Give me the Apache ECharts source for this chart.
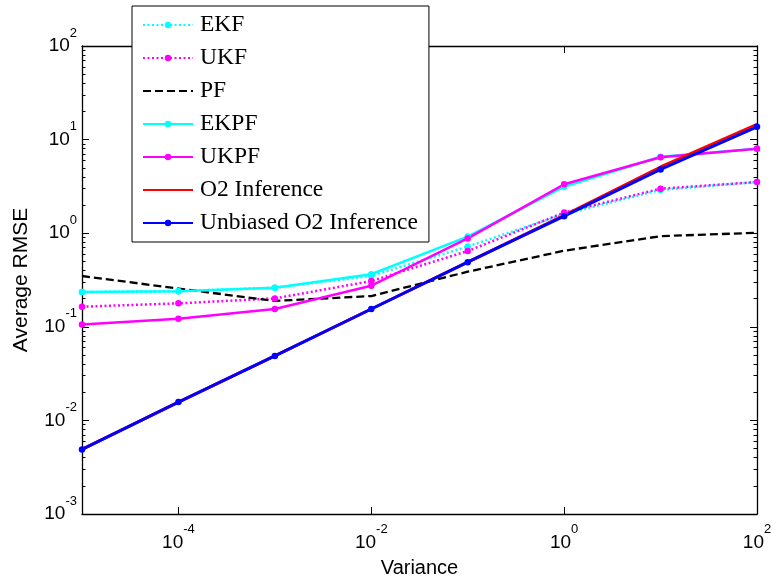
<!DOCTYPE html>
<html>
<head>
<meta charset="utf-8">
<script src="https://cdn.jsdelivr.net/npm/echarts@6/dist/echarts.min.js"></script>
<style>
  html, body { margin: 0; padding: 0; background: #ffffff; }
  #chart { width: 773px; height: 581px; }
</style>
</head>
<body>
<div id="chart"></div>
<script>
// Noise variance (x) and average RMSE of each estimator (y)
const variance = [1e-5, 1e-4, 1e-3, 1e-2, 1e-1, 1, 10, 100];

const ekf      = [0.235, 0.240, 0.262, 0.350, 0.72, 1.60, 2.90, 3.52];
const ukf      = [0.164, 0.178, 0.201, 0.308, 0.645, 1.66, 2.99, 3.52];
const pf       = [0.349, 0.256, 0.189, 0.213, 0.388, 0.65, 0.93, 1.01];
const ekpf     = [0.235, 0.240, 0.262, 0.364, 0.92, 3.14, 6.56, 8.0];
const ukpf     = [0.106, 0.122, 0.155, 0.275, 0.88, 3.33, 6.47, 8.0];
const o2       = [0.0049, 0.0157, 0.0488, 0.155, 0.49, 1.55, 5.1, 14.5];
const o2Unbias = [0.0049, 0.0157, 0.0488, 0.155, 0.49, 1.52, 4.8, 13.7];

const seriesNames = ['EKF', 'UKF', 'PF', 'EKPF', 'UKPF', 'O2 Inference', 'Unbiased O2 Inference'];
// Entries drawn as plain lines in the legend (no marker)
const plainLineNames = ['PF', 'O2 Inference'];

// Tick positions (decade exponents)
const xTickExponents = [-4, -2, 0, 2];
const yTickExponents = [-3, -2, -1, 0, 1, 2];
const minorMultipliers = [2, 3, 4, 5, 6, 7, 8, 9];

const xTicks = xTickExponents.map(e => Math.pow(10, e));
const yTicks = yTickExponents.map(e => Math.pow(10, e));
const yMinorTicks = [];
yTickExponents.slice(0, -1).forEach(e => {
  minorMultipliers.forEach(m => yMinorTicks.push(m * Math.pow(10, e)));
});

const pairs = ys => variance.map((x, i) => [x, ys[i]]);

// "10" with a raised exponent
const labelRich = {
  b: { fontFamily: 'Liberation Sans', fontSize: 19, color: '#000', lineHeight: 39, verticalAlign: 'middle' },
  e: { fontFamily: 'Liberation Sans', fontSize: 13, color: '#000', verticalAlign: 'top' }
};
const powerLabel = v => '{b|10}{e|' + Math.round(Math.log10(v)) + '}';

const axisLineStyle = { show: true, onZero: false, lineStyle: { color: '#000', width: 1.3 } };

function xAxisDef(pos, withLabels) {
  return {
    type: 'log', logBase: 10, min: 1e-5, max: 100, position: pos,
    axisLine: axisLineStyle,
    axisTick: { show: true, inside: true, length: 7, customValues: xTicks, lineStyle: { color: '#000', width: 1 } },
    axisLabel: withLabels
      ? { show: true, customValues: xTicks, formatter: powerLabel, rich: labelRich, margin: 9 }
      : { show: false },
    splitLine: { show: false },
    minorTick: { show: false },
    name: withLabels ? 'Variance' : '',
    nameLocation: 'middle',
    nameGap: 44,
    nameTextStyle: { fontFamily: 'Liberation Sans', fontSize: 20, color: '#000' }
  };
}

function yAxisDef(pos, major, withLabels) {
  return {
    type: 'log', logBase: 10, min: 1e-3, max: 100, position: pos,
    axisLine: major ? axisLineStyle : { show: false },
    axisTick: {
      show: true, inside: true, length: major ? 7 : 3.5,
      customValues: major ? yTicks : yMinorTicks,
      lineStyle: { color: '#000', width: 1 }
    },
    axisLabel: withLabels
      ? { show: true, customValues: yTicks, formatter: powerLabel, rich: labelRich, margin: 5 }
      : { show: false },
    splitLine: { show: false },
    minorTick: { show: false },
    name: withLabels ? 'Average RMSE' : '',
    nameLocation: 'middle',
    nameRotate: 90,
    nameGap: 50,
    nameTextStyle: { fontFamily: 'Liberation Sans', fontSize: 21, color: '#000' }
  };
}

function lineSeries(name, data, color, opts) {
  return Object.assign({
    name: name,
    type: 'line',
    data: pairs(data),
    xAxisIndex: 0,
    yAxisIndex: 0,
    symbol: 'circle',
    symbolSize: 6.5,
    itemStyle: { color: color },
    lineStyle: { color: color, width: 2.5, type: 'solid' },
    emphasis: { disabled: true },
    silent: true
  }, opts || {});
}

const legendData = seriesNames.map(name =>
  plainLineNames.indexOf(name) >= 0
    ? { name: name, itemStyle: { color: 'rgba(0,0,0,0)', borderColor: 'rgba(0,0,0,0)', borderWidth: 0, opacity: 0 } }
    : { name: name }
);

const chart = echarts.init(document.getElementById('chart'), null, { renderer: 'canvas' });

chart.setOption({
  animation: false,
  backgroundColor: '#ffffff',
  grid: { left: 82, right: 16, top: 46, bottom: 67, containLabel: false, outerBoundsMode: 'none' },
  legend: {
    orient: 'vertical',
    left: 132,
    top: 6,
    padding: [7, 11, 7, 10],
    itemWidth: 50,
    itemHeight: 8,
    itemGap: 9,
    backgroundColor: '#ffffff',
    borderColor: '#000',
    borderWidth: 1,
    selectedMode: false,
    textStyle: { fontFamily: 'Liberation Serif', fontSize: 23.5, lineHeight: 24, color: '#000', padding: [0, 0, 0, 2] },
    data: legendData
  },
  xAxis: [xAxisDef('bottom', true), xAxisDef('top', false)],
  yAxis: [
    yAxisDef('left', true, true),
    yAxisDef('left', false, false),
    yAxisDef('right', true, false),
    yAxisDef('right', false, false)
  ],
  series: [
    lineSeries('EKF', ekf, '#00ffff', { lineStyle: { color: '#00ffff', width: 2.5, type: [2, 2.5] } }),
    lineSeries('UKF', ukf, '#ff00ff', { lineStyle: { color: '#ff00ff', width: 2.5, type: [2, 2.5] } }),
    lineSeries('PF', pf, '#000000', { symbol: 'none', lineStyle: { color: '#000', width: 2.3, type: [8, 4] } }),
    lineSeries('EKPF', ekpf, '#00ffff'),
    lineSeries('UKPF', ukpf, '#ff00ff'),
    lineSeries('O2 Inference', o2, '#ff0000', { symbol: 'none', lineStyle: { color: '#ff0000', width: 3 } }),
    lineSeries('Unbiased O2 Inference', o2Unbias, '#0000ff', { lineStyle: { color: '#0000ff', width: 3 } })
  ]
});
</script>
</body>
</html>
